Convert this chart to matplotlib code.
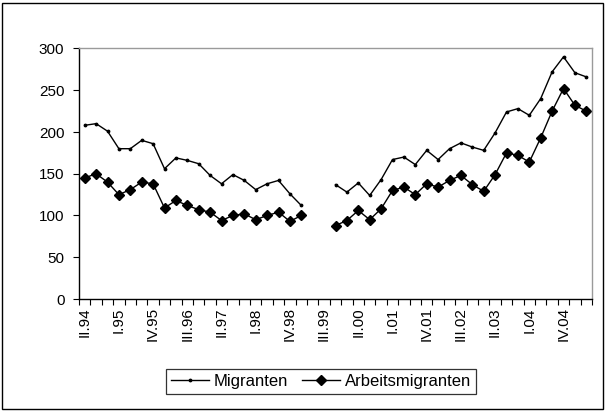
import numpy as np
import matplotlib
matplotlib.use("Agg")
import matplotlib.pyplot as plt
from matplotlib import patches

plt.rcParams["font.family"] = ["Liberation Sans", "DejaVu Sans"]

# quarters from II.94 to II.05
quarters = ["II.94", "III.94", "IV.94",
            "I.95", "II.95", "III.95", "IV.95",
            "I.96", "II.96", "III.96", "IV.96",
            "I.97", "II.97", "III.97", "IV.97",
            "I.98", "II.98", "III.98", "IV.98",
            "I.99", "II.99", "III.99", "IV.99",
            "I.00", "II.00", "III.00", "IV.00",
            "I.01", "II.01", "III.01", "IV.01",
            "I.02", "II.02", "III.02", "IV.02",
            "I.03", "II.03", "III.03", "IV.03",
            "I.04", "II.04", "III.04", "IV.04",
            "I.05", "II.05"]

nan = np.nan
migranten = [208, 210, 201, 180, 180, 190, 186, 156, 169, 166,
             162, 148, 138, 149, 142, 131, 138, 142, 126, 112,
             nan, nan,
             137, 128, 139, 124, 143, 167, 170, 161, 178, 167,
             180, 187, 182, 178, 199, 224, 228, 220, 240, 272,
             290, 271, 266]
arbeitsmigranten = [145, 150, 140, 125, 131, 140, 138, 109, 118, 112,
                    107, 104, 94, 100, 102, 95, 100, 104, 93, 100,
                    nan, nan,
                    88, 94, 106, 95, 108, 130, 134, 125, 138, 134,
                    142, 148, 137, 129, 149, 175, 172, 164, 193, 225,
                    252, 232, 225]

label_every = 3

fig = plt.figure(figsize=(6.05, 4.11), dpi=100)
ax = fig.add_axes([79/605, 1-299/411, (592-79)/605, (299-48.5)/411])

x = np.arange(len(quarters))
ax.plot(x, migranten, color="black", lw=1.0, marker=".", markersize=3.5,
        label="Migranten")
ax.plot(x, arbeitsmigranten, color="black", lw=1.0, marker="D", markersize=5,
        label="Arbeitsmigranten")

ax.set_xlim(-0.5, len(quarters) - 0.5)
ax.set_ylim(0, 300)
ax.set_yticks(np.arange(0, 301, 50))

# ticks between categories, labels on every 3rd category
ax.set_xticks(np.arange(len(quarters) + 1) - 0.5)
ax.set_xticklabels([])
ax.set_xticks(x[::label_every], minor=True)
ax.set_xticklabels(quarters[::label_every], minor=True, rotation=90, fontsize=11)
ax.tick_params(axis="x", which="major", direction="out", length=4.5, width=0.8)
ax.tick_params(axis="x", which="minor", length=0, pad=6)
ax.tick_params(axis="y", direction="out", length=4.5, width=0.8, labelsize=11, pad=6)

for s in ["top", "right"]:
    ax.spines[s].set_color("#9a9a9a")
    ax.spines[s].set_linewidth(1.0)
for s in ["left", "bottom"]:
    ax.spines[s].set_color("black")
    ax.spines[s].set_linewidth(1.0)

leg = fig.legend(loc="center", bbox_to_anchor=(321/605, 1-381/411), ncol=2,
                 fontsize=12, frameon=True, fancybox=False, handlelength=2.3,
                 handletextpad=0.3, columnspacing=0.8, borderpad=0.3)
leg.get_frame().set_edgecolor("black")
leg.get_frame().set_linewidth(0.9)

# outer chart border
fig.patches.append(patches.Rectangle((2/605, 2/411), 601/605, 406/411,
                                     transform=fig.transFigure, fill=False,
                                     edgecolor="black", lw=1.0))

fig.savefig("out.png", dpi=100)
